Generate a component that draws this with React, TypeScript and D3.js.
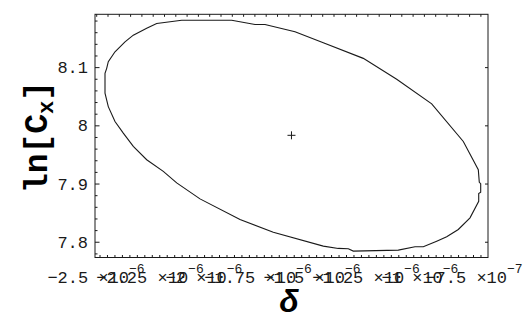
import React, { useEffect, useRef } from 'react';
import * as d3 from 'd3';

// contour of the confidence region, delta in units of 1e-6, ln C_x
const contourDelta = [
  -2.1032, -1.8718, -1.7639, -1.7176, -1.5787, -1.4477, -1.2625, -1.1079, -0.9458, -0.7995,
  -0.7301, -0.7255, -0.719, -0.719, -0.7282, -0.7282, -0.7685, -0.8227, -0.8764, -0.9227,
  -0.9847, -1.0231, -1.1005, -1.3088, -1.3319, -1.3782, -1.4477, -1.6792, -1.8333, -2.0185,
  -2.1264, -2.1884, -2.2653, -2.3273, -2.3736, -2.412, -2.4431, -2.4583, -2.4583, -2.4505,
  -2.4431, -2.412, -2.3657, -2.3273, -2.2653, -2.219,
];
const contourLnC = [
  8.1815, 8.1815, 8.1741, 8.1741, 8.1615, 8.1426, 8.1159, 8.08, 8.0377, 7.9731,
  7.9247, 7.9029, 7.9007, 7.8858, 7.8836, 7.8704, 7.842, 7.8219, 7.8094, 7.8019,
  7.7923, 7.7923, 7.7865, 7.7848, 7.7889, 7.7894, 7.7933, 7.8173, 7.839, 7.8745,
  7.9019, 7.9217, 7.9418, 7.9646, 7.9875, 8.0074, 8.033, 8.056, 8.0902, 8.0988,
  8.1101, 8.1272, 8.1443, 8.1558, 8.1678, 8.1759,
];

// best fit point
const bestDelta = [-1.595];
const bestLnC = [7.9837];

const xTickValues = [-2.5, -2.25, -2, -1.75, -1.5, -1.25, -1, -0.75];
const xTickMantissa = ['\u22122.5', '\u22122.25', '\u22122', '\u22121.75', '\u22121.5', '\u22121.25', '\u22121', '\u22127.5'];
const xTickExponent = ['\u22126', '\u22126', '\u22126', '\u22126', '\u22126', '\u22126', '\u22126', '\u22127'];

const yTickValues = [7.8, 7.9, 8, 8.1];
const yTickLabels = ['7.8', '7.9', '8', '8.1'];

const App = () => {
  const ref = useRef<SVGSVGElement>(null);

  useEffect(() => {
    const svg = d3.select(ref.current);
    svg.selectAll('*').remove();

    const left = 95, right = 488, top = 14.3, bottom = 257.5;
    const x = d3.scaleLinear().domain([-2.5046, -0.6852]).range([left, right]);
    const y = d3.scaleLinear().domain([7.7738, 8.1916]).range([bottom, top]);

    const monoFont = '"Liberation Mono", "Courier New", monospace';
    const ink = '#1a1a1a';

    // frame
    svg.append('rect')
      .attr('x', left).attr('y', top)
      .attr('width', right - left).attr('height', bottom - top)
      .attr('fill', 'none').attr('stroke', ink).attr('stroke-width', 1);

    const ticks = svg.append('g').attr('stroke', ink).attr('stroke-width', 1);

    // left: major and minor
    yTickValues.forEach(v => {
      ticks.append('line').attr('x1', left).attr('x2', left + 4.5).attr('y1', y(v)).attr('y2', y(v));
    });
    d3.range(7.78, 8.19, 0.02).forEach(v => {
      if (yTickValues.some(t => Math.abs(t - v) < 1e-6)) return;
      ticks.append('line').attr('x1', left).attr('x2', left + 2.5).attr('y1', y(v)).attr('y2', y(v));
    });
    // right: majors only
    yTickValues.forEach(v => {
      ticks.append('line').attr('x1', right).attr('x2', right - 3).attr('y1', y(v)).attr('y2', y(v));
    });
    // bottom and top small ticks
    d3.range(100, right - 2, 7.47).forEach(px => {
      ticks.append('line').attr('x1', px).attr('x2', px).attr('y1', bottom).attr('y2', bottom - 2.5);
    });
    d3.range(96.7, right - 2, 11.3).forEach(px => {
      ticks.append('line').attr('x1', px).attr('x2', px).attr('y1', top).attr('y2', top + 2.5);
    });

    // y tick labels
    svg.append('g').selectAll('text')
      .data(yTickValues)
      .enter().append('text')
      .attr('x', 88)
      .attr('y', d => y(d) + 5.5)
      .attr('text-anchor', 'end')
      .style('font-family', monoFont)
      .style('font-size', '17px')
      .attr('fill', ink)
      .text((d, i) => yTickLabels[i]);

    // x tick labels with exponent
    const xl = svg.append('g').selectAll('text')
      .data(xTickValues)
      .enter().append('text')
      .attr('x', d => x(d))
      .attr('y', 283)
      .attr('text-anchor', 'middle')
      .style('font-family', monoFont)
      .style('font-size', '17px')
      .attr('fill', ink);
    xl.append('tspan').text((d, i) => xTickMantissa[i] + ' \u00d710');
    xl.append('tspan').attr('dy', -10).style('font-size', '13px').text((d, i) => xTickExponent[i]);

    // contour
    const pts: [number, number][] = contourDelta.map((d, i) => [d, contourLnC[i]]);
    const line = d3.line<[number, number]>()
      .x(d => x(d[0]))
      .y(d => y(d[1]))
      .curve(d3.curveLinearClosed);
    svg.append('path')
      .attr('d', line(pts))
      .attr('fill', 'none')
      .attr('stroke', ink)
      .attr('stroke-width', 1.1);

    // best fit marker
    bestDelta.forEach((d, i) => {
      const cx = x(d), cy = y(bestLnC[i]);
      svg.append('line').attr('x1', cx - 4).attr('x2', cx + 4).attr('y1', cy).attr('y2', cy).attr('stroke', ink);
      svg.append('line').attr('x1', cx).attr('x2', cx).attr('y1', cy - 4).attr('y2', cy + 4).attr('stroke', ink);
    });

    // axis titles
    const yl = svg.append('text')
      .attr('transform', 'translate(47,137) rotate(-90)')
      .attr('text-anchor', 'middle')
      .style('font-family', monoFont)
      .style('font-size', '33px')
      .style('font-weight', 'bold')
      .attr('fill', '#000');
    yl.append('tspan').text('ln[C');
    yl.append('tspan').attr('dy', 6).style('font-size', '22px').text('x');
    yl.append('tspan').attr('dy', -6).text(']');

    svg.append('text')
      .attr('x', 289)
      .attr('y', 312)
      .attr('text-anchor', 'middle')
      .style('font-family', '"Liberation Sans", Arial, sans-serif')
      .style('font-size', '32px')
      .style('font-weight', 'bold')
      .style('font-style', 'italic')
      .attr('fill', '#000')
      .text('\u03b4');
  }, []);

  return (
    <svg
      ref={ref}
      width={529}
      height={326}
      style={{ position: 'absolute', left: 0, top: 0, background: '#fff' }}
    />
  );
};

export default App;
